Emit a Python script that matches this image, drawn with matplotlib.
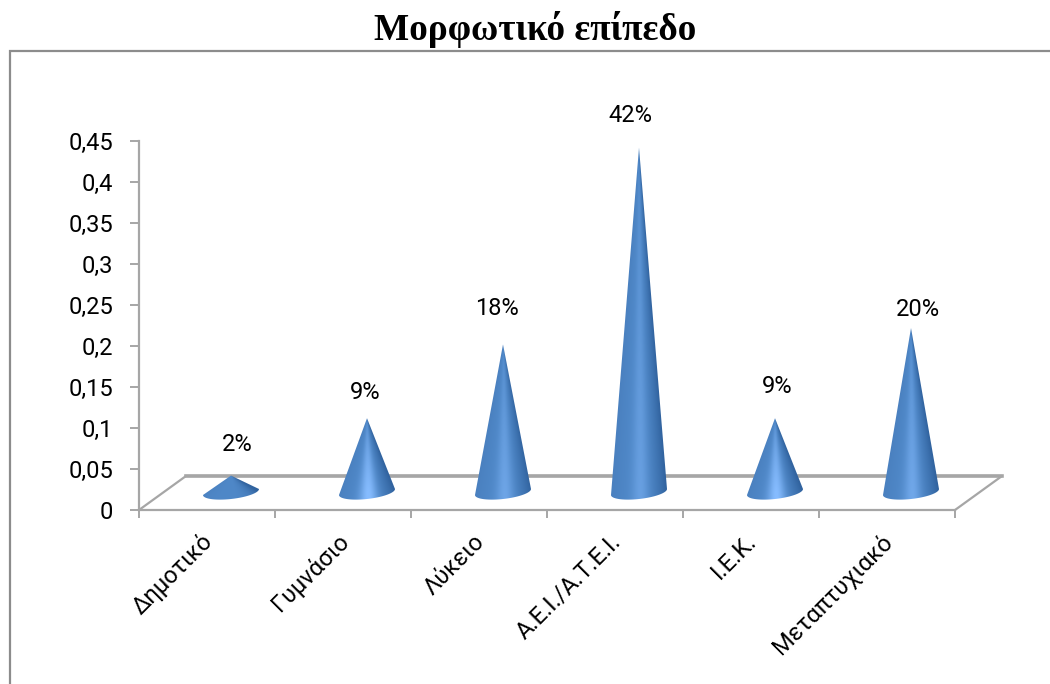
import numpy as np
import matplotlib
matplotlib.use("Agg")
import matplotlib.pyplot as plt
from matplotlib.path import Path
from matplotlib.patches import PathPatch
from matplotlib.lines import Line2D
from matplotlib.colors import to_rgb

title = "Μορφωτικό επίπεδο"
categories = ["Δημοτικό", "Γυμνάσιο", "Λύκειο", "Α.Ε.Ι./Α.Τ.Ε.Ι.", "Ι.Ε.Κ.", "Μεταπτυχιακό"]
values = [0.02, 0.09, 0.18, 0.42, 0.09, 0.20]
value_labels = ["2%", "9%", "18%", "42%", "9%", "20%"]
ytick_values = [0, 0.05, 0.1, 0.15, 0.2, 0.25, 0.3, 0.35, 0.4, 0.45]
ytick_labels = ["0", "0,05", "0,1", "0,15", "0,2", "0,25", "0,3", "0,35", "0,4", "0,45"]

W, H = 1050, 684
L, R, B, T = 139, 955, 510, 141
fig = plt.figure(figsize=(W / 100, H / 100), dpi=100, facecolor="white")
ax = fig.add_axes([L / W, 1 - B / H, (R - L) / W, (B - T) / H])
ax.set_xlim(0, len(categories))
ax.set_ylim(0, 0.45)
ax.patch.set_alpha(0)
for s in ("top", "right"):
    ax.spines[s].set_visible(False)
GRAY = "#a6a6a6"
for s in ("left", "bottom"):
    ax.spines[s].set_color(GRAY)
    ax.spines[s].set_linewidth(1.6)

FONT = ["Roboto", "Noto Sans", "DejaVu Sans"]
FS = 17
ax.set_yticks(ytick_values)
ax.set_yticklabels(ytick_labels, fontsize=FS, family=FONT)
ax.tick_params(axis="y", length=6.5, width=1.4, color=GRAY, pad=12)
ax.set_xticks(np.arange(len(categories) + 1))
ax.set_xticklabels([])
ax.tick_params(axis="x", length=6, width=1.4, color=GRAY)

# px -> data helpers
pxx = len(categories) / (R - L)
pxy = 0.45 / (B - T)

# floor
back_dx, back_dy = 47 * pxx, 34 * pxy
n = len(categories)
ax.plot([0, back_dx, n + back_dx, n], [0, back_dy, back_dy, 0], color=GRAY, lw=1.6,
        clip_on=False, zorder=1, solid_joinstyle="miter")
ax.plot([back_dx, n + back_dx], [back_dy, back_dy], color=GRAY, lw=2.6, clip_on=False, zorder=1)

# cones
dx, dy = 24 * pxx, 18 * pxy
rx = 28 * pxx
ry = 7 * pxy
tilt = 3 * pxy
edge_l = np.array(to_rgb("#4a80bf"))
edge_r = np.array(to_rgb("#31639f"))
mid = np.array(to_rgb("#4f88c8"))
bright = np.array(to_rgb("#86bcff"))
highlight = [0.0, 1.0, 0.55, 0.45, 1.0, 0.6]

for i, v in enumerate(values):
    xc = i + 0.5 + dx
    yb = dy
    ya = dy + v
    t = np.linspace(np.pi * 1.0, np.pi * 2.0, 60)
    ex = xc + rx * np.cos(t)
    ey = yb + ry * np.sin(t) + tilt * np.cos(t)
    verts = [(xc, ya)] + list(zip(ex, ey)) + [(xc, ya)]
    codes = [Path.MOVETO] + [Path.LINETO] * (len(verts) - 2) + [Path.CLOSEPOLY]
    clip = PathPatch(Path(verts, codes), transform=ax.transData, fc="none", ec="none")
    ax.add_patch(clip)
    gy, gx = np.mgrid[yb - ry - tilt:ya:300j, xc - rx:xc + rx:120j]
    frac = np.clip((ya - gy) / max(v, 1e-6), 0.03, 1.2)
    u = np.clip((gx - xc) / (rx * frac), -1, 1)
    a = (np.abs(u) ** 2)[..., None]
    side = np.where(u[..., None] < 0, edge_l[None, None, :], edge_r[None, None, :])
    base = mid[None, None, :] * (1 - a) + side * a
    glow = np.exp(-((u - 0.05) / 0.3) ** 2) * highlight[i] * np.clip(frac, 0, 1) ** 0.7
    rgb = base * (1 - glow[..., None]) + bright[None, None, :] * glow[..., None]
    im = ax.imshow(rgb, extent=[xc - rx, xc + rx, yb - ry - tilt, ya], origin="lower",
                   aspect="auto", zorder=3, interpolation="bilinear")
    im.set_clip_path(clip)
ax.set_xlim(0, n)
ax.set_ylim(0, 0.45)

# value labels (px offsets from the cone tips)
offsets = [(6, 31), (-2, 26), (-6, 36), (-9, 32), (2, 32), (7, 19)]
for i, (v, lab, off) in enumerate(zip(values, value_labels, offsets)):
    ax.annotate(lab, (i + 0.5 + dx, dy + v), xytext=off, textcoords="offset pixels",
                ha="center", va="center", fontsize=FS, family=FONT, color="black",
                annotation_clip=False, zorder=5)

# category labels
for i, c in enumerate(categories):
    ax.annotate(c, (i + 0.5, 0), xytext=(2, -28), textcoords="offset pixels",
                ha="right", va="center", rotation=45, rotation_mode="anchor",
                fontsize=FS, family=FONT, color="black", annotation_clip=False)

fig.text(535 / W, 1 - 30 / H, title, ha="center", va="center", fontsize=26.8,
         family="Liberation Serif", weight="bold", color="black")

frame = "#8c8c8c"
fig.add_artist(Line2D([10 / W, 10 / W, 1], [0, 1 - 51 / H, 1 - 51 / H], color=frame, lw=1.6,
                      solid_joinstyle="miter"))

fig.savefig("out.png", dpi=100, facecolor="white")
